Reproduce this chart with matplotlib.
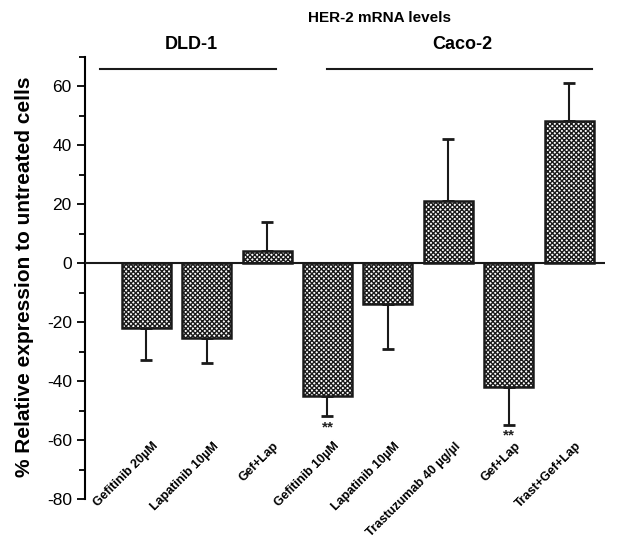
import matplotlib
matplotlib.use('Agg')
import matplotlib.pyplot as plt

# chart data
categories = ['Gefitinib 20µM', 'Lapatinib 10µM', 'Gef+Lap', 'Gefitinib 10µM',
              'Lapatinib 10µM', 'Trastuzumab 40 µg/µl', 'Gef+Lap', 'Trast+Gef+Lap']
values = [-22, -25.5, 4, -45, -14, 21, -42, 48]
errors = [11, 8.5, 10, 7, 15, 21, 13, 13]
stars = ['', '', '', '**', '', '', '**', '']
groups = ['DLD-1', 'Caco-2']
group_spans = [(-0.76, 2.15), (2.99, 7.37)]
yticks = [-80, -60, -40, -20, 0, 20, 40, 60]

plt.rcParams['font.family'] = ['Liberation Sans', 'DejaVu Sans']
plt.rcParams['hatch.linewidth'] = 1.0
plt.rcParams['axes.unicode_minus'] = False

fig = plt.figure(figsize=(6.33, 5.5), dpi=100)
ax = fig.add_axes([0.1343, 0.0927, 0.8215, 0.858])

x = list(range(len(values)))
# one-sided error bars, pointing away from zero
lower = [e if v < 0 else 0 for v, e in zip(values, errors)]
upper = [e if v >= 0 else 0 for v, e in zip(values, errors)]

ax.bar(x, values, width=0.81, color='white', edgecolor='#1a1a1a', linewidth=1.8,
       hatch='xxxxxxx', zorder=2)
ax.errorbar(x, values, yerr=[lower, upper], fmt='none', ecolor='#1a1a1a',
            elinewidth=1.5, capsize=4, capthick=2, zorder=1)
ax.axhline(0, color='#1a1a1a', lw=1.5, zorder=3)

for i, s in enumerate(stars):
    if s:
        ax.text(i, values[i] - errors[i] - 1.2, s, ha='center', va='top',
                fontsize=11, fontweight='bold', color='#222222')

ax.set_xlim(-1.01, 7.59)
ax.set_ylim(-80, 80)
ax.spines[['top', 'right', 'bottom']].set_visible(False)
ax.spines['left'].set_bounds(-80, 70)
ax.spines['left'].set_linewidth(1.5)
ax.set_yticks(yticks)
ax.set_yticks(range(-70, 71, 20), minor=True)
ax.tick_params(axis='y', which='major', labelsize=12.5, length=6, width=1.3, direction='out')
ax.tick_params(axis='y', which='minor', length=4, width=1.3)
ax.set_xticks([])

# rotated category labels
for i, lab in enumerate(categories):
    ax.text(i + 0.24, -60, lab, rotation=45, ha='right', va='top',
            fontsize=9, fontweight='bold')

# group headers
for name, (a, b) in zip(groups, group_spans):
    ax.plot([a, b], [65.8, 65.8], color='#1a1a1a', lw=1.5, clip_on=False)
    ax.text((a + b) / 2 + 0.05, 74, name, ha='center', va='center',
            fontsize=13, fontweight='bold')

ax.set_ylabel('% Relative expression to untreated cells', fontsize=15,
              fontweight='bold')
ax.yaxis.set_label_coords(-0.098, 0.47)
fig.text(0.60, 0.967, 'HER-2 mRNA levels', ha='center', va='center',
         fontsize=11, fontweight='bold')

fig.savefig('out.png', dpi=100)
